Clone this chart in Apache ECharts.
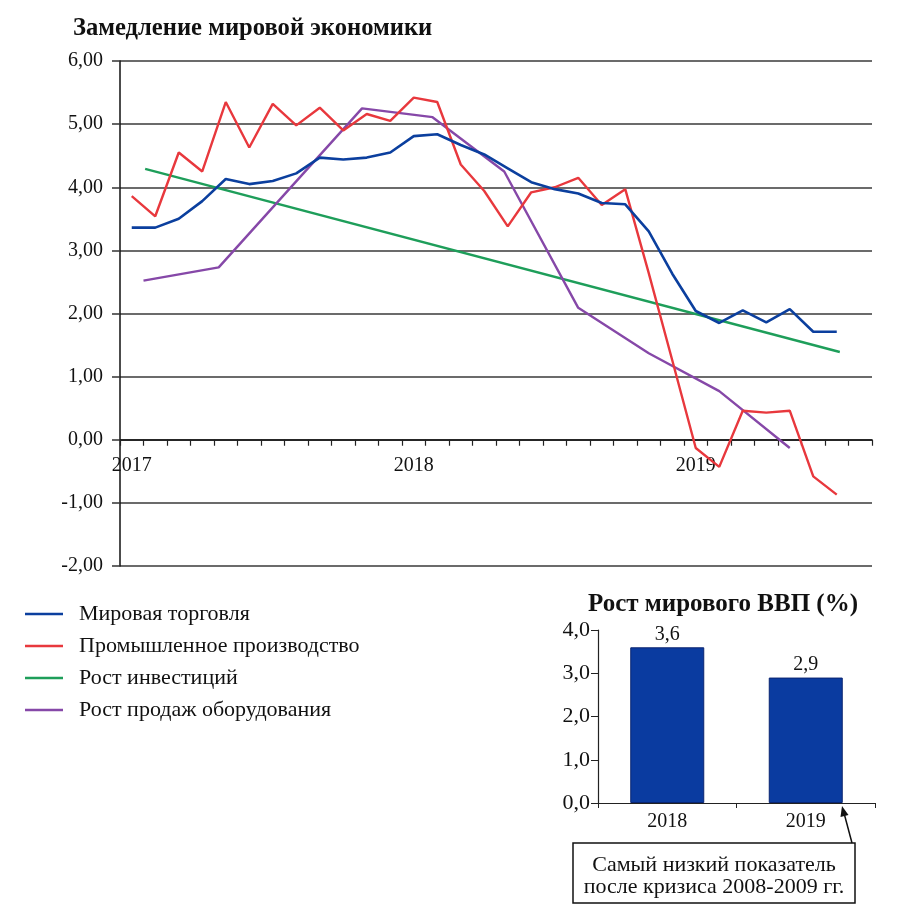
<!DOCTYPE html>
<html>
<head>
<meta charset="utf-8">
<script src="https://cdn.jsdelivr.net/npm/echarts@6/dist/echarts.min.js"></script>
<style>html,body{margin:0;padding:0;background:#fff}#c{width:900px;height:922px}</style>
</head>
<body>
<div id="c"></div>
<script>
// ---- data ----
var months = ['2017-01','2017-02','2017-03','2017-04','2017-05','2017-06','2017-07','2017-08','2017-09','2017-10','2017-11','2017-12',
              '2018-01','2018-02','2018-03','2018-04','2018-05','2018-06','2018-07','2018-08','2018-09','2018-10','2018-11','2018-12',
              '2019-01','2019-02','2019-03','2019-04','2019-05','2019-06','2019-07','2019-08'];
var yearTickLabels = {'2017-01':'2017','2018-01':'2018','2019-01':'2019'};
var worldTrade = [3.36,3.36,3.50,3.78,4.13,4.05,4.10,4.22,4.47,4.44,4.47,4.55,
                  4.81,4.84,4.67,4.52,4.30,4.08,3.97,3.90,3.75,3.73,3.30,2.63,
                  2.04,1.85,2.05,1.86,2.07,1.71,1.71,null];
var industrialProd = [3.86,3.54,4.55,4.25,5.35,4.63,5.32,4.98,5.26,4.90,5.16,5.05,
                      5.42,5.35,4.36,3.94,3.38,3.92,4.00,4.15,3.72,3.97,2.64,1.26,
                      -0.13,-0.43,0.46,0.43,0.46,-0.58,-0.87,null];
// investment growth: positions in months from start (Jan 2017 = 0)
var investPos = [1.07, 30.63];
var investVal = [4.29, 1.39];
// equipment sales growth (quarterly)
var equipPos = [1.0, 4.2, 7.2, 10.3, 13.3, 16.35, 19.5, 22.5, 25.5, 28.5];
var equipVal = [2.52, 2.73, 3.97, 5.25, 5.11, 4.25, 2.09, 1.37, 0.77, -0.13];
// GDP growth bars
var gdpYears = ['2018', '2019'];
var gdpVal = [3.6, 2.9];

var seriesNames = ['Мировая торговля','Промышленное производство','Рост инвестиций','Рост продаж оборудования'];
var colors = ['#0b3f9e','#e8383d','#1e9e5a','#8648a8'];

function pairs(xs, ys){ return xs.map(function(x,i){ return [x, ys[i]]; }); }

var FF = 'Liberation Serif';
var Y_MIN = -2, Y_MAX = 6, GRID_H = 505;
var chart = echarts.init(document.getElementById('c'));
chart.setOption({
  animation: false,
  backgroundColor: '#fff',
  textStyle: {fontFamily: FF, color: '#111'},
  title: [
    {text: 'Замедление мировой экономики', left: 68, top: 11,
     textStyle: {fontFamily: FF, fontWeight: 'bold', fontSize: 24.6, color: '#111'}},
    {text: 'Рост мирового ВВП (%)', left: 583, top: 587,
     textStyle: {fontFamily: FF, fontWeight: 'bold', fontSize: 25, color: '#111'}}
  ],
  legend: {
    data: seriesNames, orient: 'vertical', left: 25, top: 603, padding: 0,
    icon: 'path://M0,0h38v2.6h-38z',
    itemWidth: 38, itemHeight: 22, itemGap: 10,
    textStyle: {fontFamily: FF, fontSize: 22, lineHeight: 22, color: '#111', padding: [0,0,0,11]},
    selectedMode: false
  },
  grid: [
    {left: 120, right: 28, top: 61, height: GRID_H, containLabel: false},
    {left: 598, right: 25, top: 630, height: 173, containLabel: false}
  ],
  xAxis: [
    {type: 'category', gridIndex: 0, data: months, boundaryGap: true, position: 'bottom',
     offset: -GRID_H * (0 - Y_MIN) / (Y_MAX - Y_MIN),
     axisLine: {onZero: false, lineStyle: {color: '#111', width: 1.5}},
     axisTick: {show: true, interval: 0, length: 6, lineStyle: {color: '#222', width: 1.2}},
     axisLabel: {interval: 0, margin: 16, fontFamily: FF, fontSize: 20, color: '#111',
       formatter: function(v){ return yearTickLabels[v] || ''; }},
     splitLine: {show: false}},
    {type: 'value', gridIndex: 0, min: 0, max: 32, show: false, axisLine: {onZero: false}},
    {type: 'category', gridIndex: 1, data: gdpYears,
     axisLine: {lineStyle: {color: '#222', width: 1.2}},
     axisTick: {show: true, length: 5, lineStyle: {color: '#222'}},
     axisLabel: {margin: 9, fontFamily: FF, fontSize: 20, color: '#111'}}
  ],
  yAxis: [
    {type: 'value', gridIndex: 0, min: Y_MIN, max: Y_MAX, interval: 1,
     axisLine: {show: true, onZero: false, lineStyle: {color: '#111', width: 1.5}},
     axisTick: {show: true, length: 8, lineStyle: {color: '#333', width: 1.5}},
     axisLabel: {margin: 17, fontFamily: FF, fontSize: 20, color: '#111',
       formatter: function(v){ return v.toFixed(2).replace('.', ','); }},
     splitLine: {show: true, lineStyle: {color: '#3a3a3a', width: 1.5}}},
    {type: 'value', gridIndex: 1, min: 0, max: 4, interval: 1,
     axisLine: {show: true, lineStyle: {color: '#222', width: 1.2}},
     axisTick: {show: true, length: 7, lineStyle: {color: '#222'}},
     axisLabel: {margin: 8, fontFamily: FF, fontSize: 22, color: '#111',
       formatter: function(v){ return v.toFixed(1).replace('.', ','); }},
     splitLine: {show: false}}
  ],
  series: [
    {name: seriesNames[0], type: 'line', xAxisIndex: 0, yAxisIndex: 0, data: worldTrade,
     symbol: 'none', lineStyle: {color: colors[0], width: 2.6}, itemStyle: {color: colors[0]}, z: 5},
    {name: seriesNames[1], type: 'line', xAxisIndex: 0, yAxisIndex: 0, data: industrialProd,
     symbol: 'none', lineStyle: {color: colors[1], width: 2.4}, itemStyle: {color: colors[1]}, z: 4},
    {name: seriesNames[2], type: 'line', xAxisIndex: 1, yAxisIndex: 0, data: pairs(investPos, investVal),
     symbol: 'none', lineStyle: {color: colors[2], width: 2.4}, itemStyle: {color: colors[2]}, z: 3},
    {name: seriesNames[3], type: 'line', xAxisIndex: 1, yAxisIndex: 0, data: pairs(equipPos, equipVal),
     symbol: 'none', lineStyle: {color: colors[3], width: 2.4}, itemStyle: {color: colors[3]}, z: 3},
    {name: 'ВВП', type: 'bar', xAxisIndex: 2, yAxisIndex: 1, data: gdpVal, barWidth: 74,
     itemStyle: {color: '#0a3ba0', borderColor: '#0a2470', borderWidth: 1},
     label: {show: true, position: 'top', distance: 3, fontFamily: FF, fontSize: 20, color: '#111',
       formatter: function(p){ return p.value.toFixed(1).replace('.', ','); }}}
  ],
  graphic: [
    {type: 'rect', shape: {x: 573, y: 843, width: 282, height: 60},
     style: {fill: '#fff', stroke: '#111', lineWidth: 1.5}},
    {type: 'text', x: 714, y: 865, style: {text: 'Самый низкий показатель', font: '22px "Liberation Serif"',
      fill: '#111', textAlign: 'center', textVerticalAlign: 'middle'}},
    {type: 'text', x: 714, y: 887, style: {text: 'после кризиса 2008-2009 гг.', font: '22px "Liberation Serif"',
      fill: '#111', textAlign: 'center', textVerticalAlign: 'middle'}},
    {type: 'line', shape: {x1: 852, y1: 843, x2: 844, y2: 813}, style: {stroke: '#111', lineWidth: 1.5}},
    {type: 'polygon', shape: {points: [[842, 806], [848.5, 815], [840.5, 817]]}, style: {fill: '#111'}}
  ]
});
</script>
</body>
</html>
